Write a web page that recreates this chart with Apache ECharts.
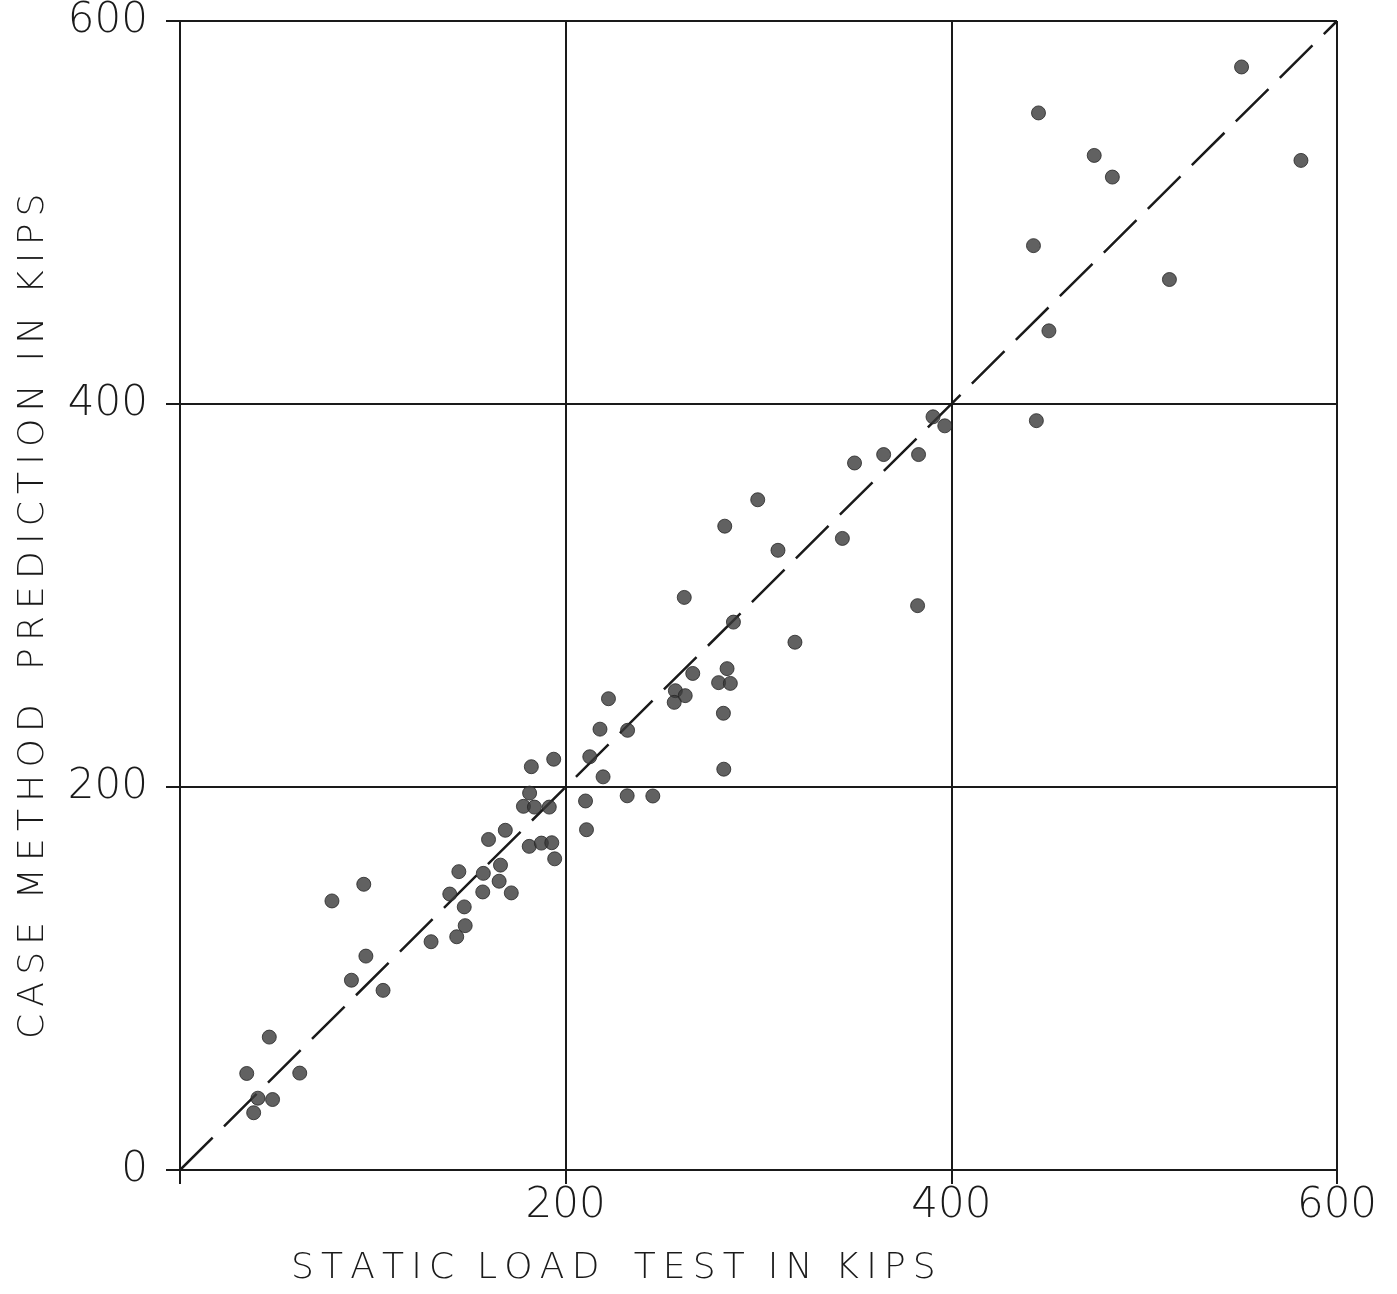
<!DOCTYPE html>
<html>
<head>
<meta charset="utf-8">
<title>Case Method vs Static Load Test</title>
<script src="https://cdn.jsdelivr.net/npm/echarts@6/dist/echarts.min.js"></script>
<style>
  html, body { margin: 0; padding: 0; background: #ffffff; }
  #chart { width: 1397px; height: 1294px; }
</style>
</head>
<body>
<div id="chart"></div>
<script>
// Static load test capacity (kips) for each pile
const staticLoad = [
  34.6, 46.3, 62.1, 40.4, 48.0, 38.2,
  78.8, 95.3, 88.9, 96.4, 105.3, 130.2, 143.5, 147.9, 147.4, 139.9, 144.6, 157.0, 157.3,
  165.5, 166.2, 171.8, 160.0, 168.7, 181.1, 187.4, 192.8, 194.3, 210.8,
  182.2, 193.8, 181.3, 178.1, 183.8, 191.5, 210.3, 219.4, 212.5, 217.8, 222.2, 232.1,
  231.9, 245.2, 256.9, 262.0, 256.3, 265.9, 283.7, 279.3, 285.4, 281.8, 282.0,
  261.5, 282.5, 299.6, 310.1, 287.0, 318.9, 343.5, 349.8, 364.9, 383.0, 382.5, 390.5, 396.6,
  550.5, 445.2, 474.1, 483.5, 581.3, 442.6, 513.1, 450.6, 444.1
];

// Capacity predicted by the Case method (kips), same pile order
const casePrediction = [
  50.4, 69.4, 50.6, 37.5, 36.8, 29.9,
  140.5, 149.2, 99.1, 111.7, 93.8, 119.2, 121.8, 127.6, 137.4, 144.1, 155.8, 145.2, 154.9,
  150.8, 159.2, 144.7, 172.6, 177.4, 169.0, 170.7, 170.9, 162.5, 177.7,
  210.6, 214.5, 196.8, 189.9, 189.5, 189.5, 192.7, 205.3, 215.8, 230.2, 246.1, 229.6,
  195.4, 195.3, 250.3, 247.7, 244.2, 259.3, 261.8, 254.5, 254.1, 238.5, 209.3,
  299.0, 336.2, 350.0, 323.6, 286.1, 275.6, 329.8, 369.2, 373.6, 373.6, 294.7, 393.3, 388.6,
  576.0, 552.0, 529.8, 518.5, 527.2, 482.7, 465.0, 438.2, 391.3
];

// Line of perfect agreement
const equalityLine = [[0, 0], [600, 600]];

// Axis range and tick values
const axisMin = 0;
const axisMax = 600;
const axisStep = 200;

const xTitle = 'STATIC  LOAD   TEST  IN  KIPS';
const yTitle = 'CASE  METHOD   PREDICTION  IN  KIPS';

// open up the letters inside each word with thin spaces; word gaps stay as written
function spaced(s) {
  let out = '';
  for (let i = 0; i < s.length; i++) {
    out += s[i];
    if (i < s.length - 1 && s[i] !== ' ' && s[i + 1] !== ' ') out += '\u2009';
  }
  return out;
}

const FONT = '"DejaVu Sans", sans-serif';
const INK = '#1a1a1a';

const points = staticLoad.map((v, i) => [v, casePrediction[i]]);

const chart = echarts.init(document.getElementById('chart'), null, { renderer: 'canvas' });

const axisCommon = {
  type: 'value',
  min: axisMin,
  max: axisMax,
  interval: axisStep,
  axisLine: { show: true, onZero: false, lineStyle: { color: INK, width: 2 } },
  axisTick: { show: true, inside: false, length: 14, lineStyle: { color: INK, width: 2 } },
  splitLine: { show: true, lineStyle: { color: INK, width: 2 } },
  axisLabel: {
    color: INK, fontFamily: FONT, fontWeight: 200, fontSize: 42
  }
};

chart.setOption({
  backgroundColor: '#ffffff',
  animation: false,
  grid: { left: 180, right: 60, top: 20, bottom: 124, containLabel: false },
  xAxis: Object.assign({}, axisCommon, {
    axisLabel: Object.assign({}, axisCommon.axisLabel, {
      margin: 15,
      formatter: v => (v === 0 ? '' : String(v))
    })
  }),
  yAxis: Object.assign({}, axisCommon, {
    axisLabel: Object.assign({}, axisCommon.axisLabel, { margin: 32 })
  }),
  graphic: [
    {
      type: 'text',
      left: 291,
      top: 1251,
      style: {
        text: spaced(xTitle),
        font: '200 36px ' + FONT,
        fill: INK
      }
    },
    {
      type: 'text',
      x: 16,
      y: 1039,
      rotation: Math.PI / 2,
      style: {
        text: spaced(yTitle),
        font: '200 36px ' + FONT,
        fill: INK,
        align: 'left',
        verticalAlign: 'top'
      }
    }
  ],
  series: [
    {
      type: 'line',
      data: equalityLine,
      symbol: 'none',
      silent: true,
      lineStyle: { color: INK, width: 2.5, type: [46, 16] },
      z: 2
    },
    {
      type: 'scatter',
      data: points,
      symbol: 'circle',
      symbolSize: 14,
      itemStyle: { color: '#3a3a3a', borderColor: '#262626', borderWidth: 1 },
      z: 3
    }
  ]
});
</script>
</body>
</html>
